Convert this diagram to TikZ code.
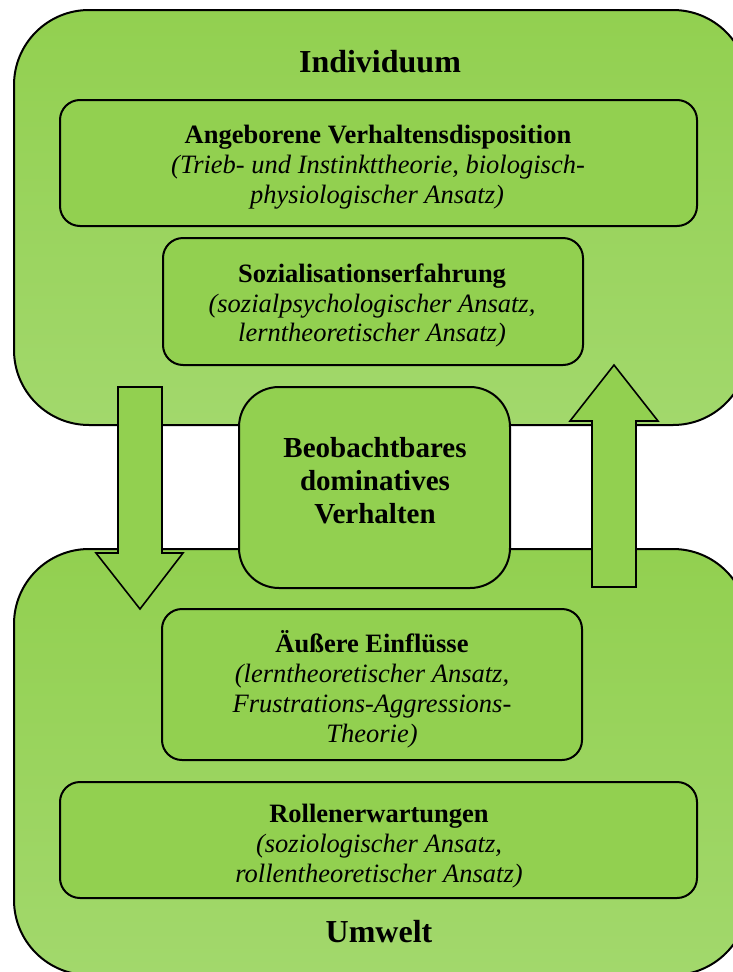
\documentclass[tikz,border=0pt]{standalone}
\usepackage{fontspec}
\setmainfont{Liberation Serif}[
  UprightFont={Liberation Serif},
  BoldFont={Liberation Serif Bold},
  ItalicFont={Liberation Serif Italic},
  BoldItalicFont={Liberation Serif Bold Italic}]
\definecolor{gInner}{HTML}{92D050}
\definecolor{gOuterTop}{HTML}{92D050}
\definecolor{gOuterBot}{HTML}{A2D86C}
\begin{document}
\begin{tikzpicture}[x=1pt,y=-1pt,
  outerbox/.style={draw, line width=2pt, rounded corners=75pt,
    top color=gOuterTop, bottom color=gOuterBot, inner sep=0pt},
  innerbox/.style={draw, line width=2pt, rounded corners=20pt,
    fill=gInner, inner sep=0pt},
  midbox/.style={innerbox, rounded corners=40pt},
  blockarrow/.style={draw, line width=1.6pt, fill=gInner, line join=miter},
  txt/.style={anchor=base, inner sep=0pt},
  headline/.style={txt, font=\fontsize{26.5}{30}\selectfont\bfseries},
  subline/.style={txt, font=\fontsize{26.5}{30}\selectfont\itshape},
  titleline/.style={txt, font=\fontsize{32}{36}\selectfont\bfseries},
  midline/.style={txt, font=\fontsize{29}{33}\selectfont\bfseries}]
\useasboundingbox (0,0) rectangle (733,972);
\clip (0,0) rectangle (733,972);

% the two large areas
\node[outerbox, minimum width=734pt, minimum height=415pt] (indiv) at (381,217.5) {};
\node[outerbox, minimum width=734pt, minimum height=426pt] (umwelt) at (381,762) {};

% block arrows between the areas
\draw[blockarrow] (118,387) -- (162,387) -- (162,553) -- (183,553) -- (140,609)
  -- (96,553) -- (118,553) -- cycle;
\draw[blockarrow] (592,587) -- (636,587) -- (636,421) -- (658,421) -- (614,365)
  -- (570,421) -- (592,421) -- cycle;

% observable behaviour in the middle
\node[midbox, minimum width=271pt, minimum height=201pt] (beob) at (374.5,487.5) {};

% inner boxes
\node[innerbox, minimum width=637pt, minimum height=126pt] (angeb) at (378.5,163) {};
\node[innerbox, minimum width=420pt, minimum height=127pt] (sozial) at (373,301.5) {};
\node[innerbox, minimum width=420pt, minimum height=151pt] (aeuss) at (372,684.5) {};
\node[innerbox, minimum width=637pt, minimum height=116pt] (rollen) at (378.5,840) {};

% texts
\node[titleline] (tIndiv) at (380,72) {Individuum};

\node[headline] (a1) at (378,143) {Angeborene Verhaltensdisposition};
\node[subline] (a2) at (378,173) {(Trieb- und Instinkttheorie, biologisch-};
\node[subline] (a3) at (377,203) {physiologischer Ansatz)};

\node[headline] (s1) at (372,282) {Sozialisationserfahrung};
\node[subline] (s2) at (372,312) {(sozialpsychologischer Ansatz,};
\node[subline] (s3) at (372,341) {lerntheoretischer Ansatz)};

\node[midline] (b1) at (375,457) {Beobachtbares};
\node[midline] (b2) at (375,490) {dominatives};
\node[midline] (b3) at (375,523) {Verhalten};

\node[headline] (e1) at (372,652) {Äußere Einflüsse};
\node[subline] (e2) at (372,682) {(lerntheoretischer Ansatz,};
\node[subline] (e3) at (372,712) {Frustrations-Aggressions-};
\node[subline] (e4) at (372,742) {Theorie)};

\node[headline] (r1) at (379,822) {Rollenerwartungen};
\node[subline] (r2) at (379,852) {(soziologischer Ansatz,};
\node[subline] (r3) at (379,882) {rollentheoretischer Ansatz)};

\node[titleline] (tUmwelt) at (379,942) {Umwelt};
\end{tikzpicture}
\end{document}
